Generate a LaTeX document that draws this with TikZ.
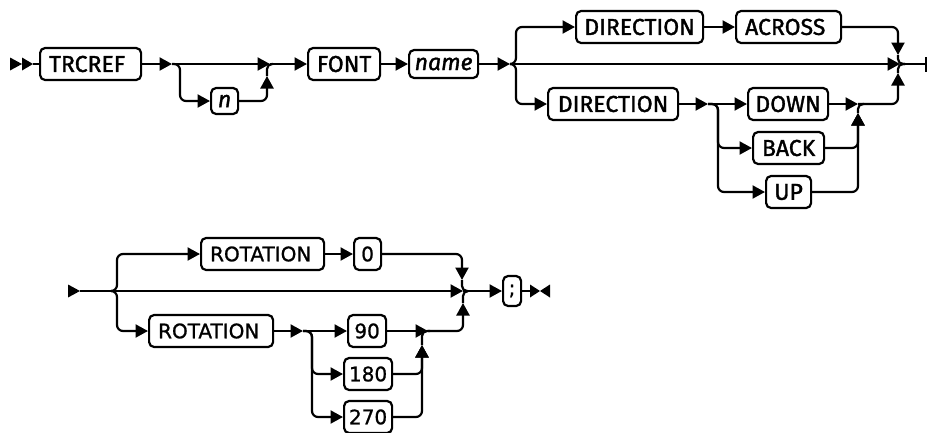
\documentclass[tikz,border=0pt]{standalone}
\usepackage{fontspec}
\usetikzlibrary{arrows.meta}
\newfontfamily\plexfont{Fira Sans}[FakeBold=1.5]
\newfontfamily\dvfont{DejaVu Sans}[FakeBold=1]
\begin{document}
\begin{tikzpicture}[x=1pt,y=-1pt,
  conn/.style={line width=2.2pt, rounded corners=6pt},
  arr/.style={conn, -{Triangle[length=12.5pt,width=13pt]}},
  brace/.style={line width=2.2pt, rounded corners=5pt},
  kw/.style={draw, line width=2.2pt, rounded corners=5pt, minimum height=32pt, inner ysep=0pt, inner xsep=0pt, anchor=west, font=\plexfont\fontsize{23}{26}\selectfont},
  lft/.style={inner xsep=9pt, align=left},
  kwb/.style={kw, font=\dvfont\fontsize{20}{23}\selectfont},
  marker/.style={fill=black}
]
\useasboundingbox (0,0) rectangle (927,432);
% ---------- first diagram ----------
\node[kw, lft, text width=83pt] (trcref) at (39,64) {TRCREF};
\node[kw, minimum width=27pt, minimum height=26pt] (n) at (210,101) {\itshape n};
\node[kw, minimum width=72pt] (font) at (307,64) {FONT};
\node[kw, minimum width=69pt, minimum height=28pt] (name) at (408,64) {\itshape name};
\node[kw, minimum width=127pt] (dira) at (575,27) {DIRECTION};
\node[kw, lft, text width=87pt] (across) at (735,27) {ACROSS};
\node[kw, minimum width=130pt] (dirb) at (547,104) {DIRECTION};
\node[kw, minimum width=80pt] (down) at (747,104) {DOWN};
\node[kw, minimum width=71pt] (back) at (752,148) {BACK};
\node[kw, minimum width=45pt] (up) at (765,192) {UP};

\coordinate (s1) at (33,64);
\coordinate (f1) at (172,64);
\coordinate (j1) at (270,64);
\coordinate (c1) at (267,76);
\coordinate (k1) at (273,64);
\coordinate (f2) at (510,64);
\coordinate (j2) at (900,64);
\coordinate (c2) at (898,55);
\coordinate (k2) at (905,64);
\coordinate (e1) at (926,64);
\coordinate (f3) at (708,104);
\coordinate (j3) at (858,104);
\coordinate (c3) at (858,113);
\coordinate (k3) at (864,104);
\coordinate (c4) at (898,73);

\fill[marker] (10,57.5) -- (22,64) -- (10,70.5) -- cycle;
\fill[marker] (22,57.5) -- (33,64) -- (22,70.5) -- cycle;
\draw[conn] (s1) -- (trcref.west);
\draw[arr] (trcref.east) -- (f1);
\draw[arr] (f1) -- (j1);
\draw[arr] (f1) -| (180,101) -- (n.west);
\draw[arr] (n.east) -| (c1);
\draw[brace] (c1) |- (k1);
\draw[arr] (j1) -- (font.west);
\draw[arr] (font.east) -- (name.west);
\draw[arr] (name.east) -- (f2);
\draw[arr] (f2) -- (j2);
\draw[conn] (j2) -- (e1);
\draw[line width=2.2pt] (925.9,57) -- (925.9,72);
\draw[arr] (f2) -| (516,27) -- (dira.west);
\draw[arr] (dira.east) -- (across.west);
\draw[arr] (across.east) -| (c2);
\draw[brace] (c2) |- (k2);
\draw[arr] (f2) -| (516,104) -- (dirb.west);
\draw[arr] (dirb.east) -- (f3);
\draw[arr] (f3) -- (down.west);
\draw[arr] (f3) -| (718,148) -- (back.west);
\draw[arr] (f3) -| (718,192) -- (up.west);
\draw[arr] (down.east) -- (j3);
\draw[arr] (back.east) -| (c3);
\draw[arr] (up.east) -| (c3);
\draw[brace] (c3) |- (k3);
\draw[arr] (j3) -| (c4);
\draw[brace] (c4) |- (k2);

% ---------- second diagram ----------
\node[kwb, lft, text width=105pt] (rota) at (200,254) {ROTATION};
\node[kwb, minimum width=27pt] (zero) at (353,254) {0};
\node[kwb, lft, text width=106pt] (rotb) at (148,331) {ROTATION};
\node[kwb, minimum width=38pt] (n90) at (347,331) {90};
\node[kwb, minimum width=48pt] (n180) at (343,374) {180};
\node[kwb, minimum width=48pt] (n270) at (343,417) {270};
\node[kwb, minimum width=18pt, minimum height=30pt] (semi) at (502,291) {;};

\coordinate (s2) at (80,291);
\coordinate (f4) at (111,291);
\coordinate (j4) at (463,291);
\coordinate (c5) at (462,280);
\coordinate (k4) at (468,291);
\coordinate (f5) at (303,331);
\coordinate (j5) at (428,331);
\coordinate (c6) at (422,345);
\coordinate (k5) at (430,331);
\coordinate (c7) at (463,303);
\coordinate (s3) at (530,291);

\fill[marker] (68,284.5) -- (80,291) -- (68,297.5) -- cycle;
\draw[conn] (s2) -- (f4);
\draw[arr] (f4) -- (j4);
\draw[arr] (j4) -- (semi.west);
\draw[arr] (f4) -| (117,254) -- (rota.west);
\draw[arr] (rota.east) -- (zero.west);
\draw[arr] (zero.east) -| (c5);
\draw[brace] (c5) |- (k4);
\draw[arr] (f4) -| (117,331) -- (rotb.west);
\draw[arr] (rotb.east) -- (f5);
\draw[arr] (f5) -- (n90.west);
\draw[arr] (f5) -| (312,374) -- (n180.west);
\draw[arr] (f5) -| (312,417) -- (n270.west);
\draw[arr] (n90.east) -- (j5);
\draw[arr] (n180.east) -| (c6);
\draw[arr] (n270.east) -| (c6);
\draw[brace] (c6) |- (k5);
\draw[arr] (j5) -| (c7);
\draw[brace] (c7) |- (k4);
\draw[conn] (semi.east) -- (s3);
\fill[marker] (530,284.5) -- (540,291) -- (530,297.5) -- cycle;
\fill[marker] (550,284.5) -- (540,291) -- (550,297.5) -- cycle;
\end{tikzpicture}
\end{document}
